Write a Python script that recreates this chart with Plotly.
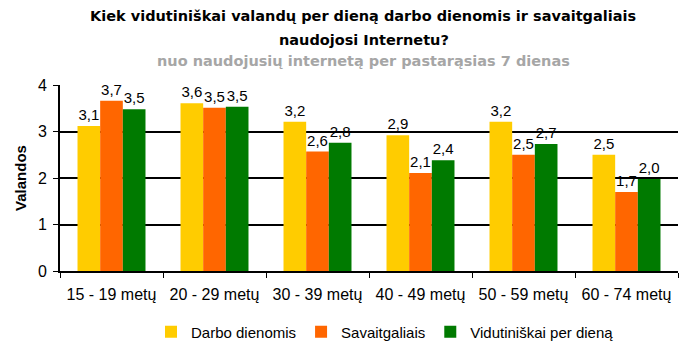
import plotly.graph_objects as go

categories = ["15 - 19 metų", "20 - 29 metų", "30 - 39 metų", "40 - 49 metų", "50 - 59 metų", "60 - 74 metų"]
darbo = [3.12, 3.61, 3.21, 2.92, 3.21, 2.50]
savaitgaliais = [3.66, 3.51, 2.57, 2.11, 2.50, 1.70]
vidutiniskai = [3.48, 3.53, 2.76, 2.38, 2.73, 1.98]
series_names = ["Darbo dienomis", "Savaitgaliais", "Vidutiniškai per dieną"]
colors = ["#FFCC00", "#FF6600", "#007A00"]

FONT = "Liberation Sans, Arial, sans-serif"
TFONT = "DejaVu Sans, Verdana, sans-serif"

# page body has an 8px margin; compensate so the figure fills the 699x355 window
OFF = 8
W, H = 699 - OFF, 355 - OFF
# target plot area in window pixels: x 60..678, y 85..271
L, R, T, B = 60 - OFF, 21, 85 - OFF, 84
PH = H - T - B
PW = W - L - R


def py(ypix):
    # window pixel -> paper y
    return (H - B - (ypix - OFF)) / PH


def px(xpix):
    return (xpix - OFF - L) / PW


fig = go.Figure()
for name, vals, col in zip(series_names, [darbo, savaitgaliais, vidutiniskai], colors):
    fig.add_trace(go.Bar(
        name=name, x=categories, y=vals, marker=dict(color=col, line=dict(width=0)),
        texttemplate="%{y:.1f}", textposition="outside", cliponaxis=False,
        textfont=dict(family=FONT, size=15, color="#000000"),
    ))

fig.update_layout(
    width=W, height=H,
    margin=dict(l=L, r=R, t=T, b=B, autoexpand=False),
    paper_bgcolor="white", plot_bgcolor="white",
    barmode="group", bargap=0.34, bargroupgap=0,
    separators=", ",
    font=dict(family=FONT, size=15, color="#000000"),
    showlegend=True,
    legend=dict(orientation="h", x=(385 - OFF) / W, xanchor="center", xref="container",
                y=1 - (332 - OFF) / H, yanchor="middle", yref="container",
                font=dict(family=FONT, size=15), itemwidth=30, traceorder="normal",
                tracegroupgap=0),
    uniformtext=dict(mode=False),
)
fig.add_annotation(text="<b>Kiek vidutiniškai valandų per dieną darbo dienomis ir savaitgaliais</b>",
                   xref="paper", yref="paper", x=px(363), y=py(16),
                   xanchor="center", yanchor="middle", showarrow=False,
                   font=dict(family=TFONT, size=14.5, color="#000000"))
fig.add_annotation(text="<b>naudojosi Internetu?</b>",
                   xref="paper", yref="paper", x=px(364), y=py(40),
                   xanchor="center", yanchor="middle", showarrow=False,
                   font=dict(family=TFONT, size=14.5, color="#000000"))
fig.add_annotation(text="<b>nuo naudojusių internetą per pastarąsias 7 dienas</b>",
                   xref="paper", yref="paper", x=px(363), y=py(61),
                   xanchor="center", yanchor="middle", showarrow=False,
                   font=dict(family=TFONT, size=14.5, color="#A6A6A6"))

fig.update_xaxes(
    showline=True, linecolor="#000000", linewidth=2,
    ticks="outside", tickson="boundaries", ticklen=5, tickcolor="#000000", tickwidth=1,
    showgrid=False, tickfont=dict(family=FONT, size=16), tickangle=0, ticklabelstandoff=8,
)
fig.update_yaxes(
    range=[0, 4], dtick=1, tick0=0,
    showline=True, linecolor="#000000", linewidth=2,
    ticks="outside", ticklen=5, tickcolor="#000000", tickwidth=1,
    showgrid=True, gridcolor="#000000", gridwidth=1.5, zeroline=False,
    tickfont=dict(family=FONT, size=16), ticklabelstandoff=3,
    title=dict(text="<b>Valandos</b>", font=dict(family=FONT, size=15), standoff=8),
)

fig.write_html("out.html")
